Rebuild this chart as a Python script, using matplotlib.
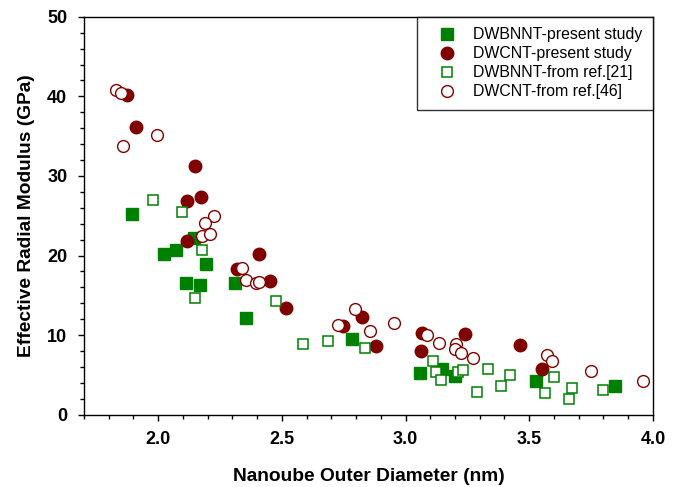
import matplotlib
matplotlib.use('Agg')
import matplotlib.pyplot as plt
from matplotlib.ticker import MultipleLocator

plt.rcParams['font.family'] = ['Liberation Sans', 'DejaVu Sans']

# -----------------------------
# DATA
# -----------------------------
bn_present_d = [1.896, 2.145, 2.072, 2.024, 2.194, 2.114, 2.169, 2.309, 2.357,
                2.782, 3.057, 3.146, 3.198, 3.529, 3.848]
bn_present_e = [25.2, 22.2, 20.7, 20.2, 18.9, 16.6, 16.3, 16.5, 12.1,
                9.5, 5.3, 5.8, 4.8, 4.2, 3.6]

c_present_d = [1.876, 1.910, 2.149, 2.116, 2.172, 2.118, 2.408, 2.317, 2.452,
               2.515, 2.823, 2.746, 2.881, 3.067, 3.061, 3.239, 3.462, 3.552]
c_present_e = [40.2, 36.2, 31.2, 26.9, 27.3, 21.8, 20.2, 18.3, 16.8,
               13.4, 12.3, 11.2, 8.6, 10.3, 8.0, 10.2, 8.7, 5.8]

bn_ref_d = [1.978, 2.098, 2.177, 2.148, 2.478, 2.585, 2.686, 2.835, 3.110, 3.125,
            3.144, 3.213, 3.234, 3.287, 3.334, 3.423, 3.384, 3.602, 3.562, 3.672,
            3.661, 3.800]
bn_ref_e = [27.0, 25.5, 20.7, 14.7, 14.3, 8.9, 9.3, 8.4, 6.7, 5.4,
            4.4, 5.4, 5.6, 2.9, 5.7, 5.0, 3.6, 4.7, 2.7, 3.4,
            2.0, 3.1]

c_ref_d = [1.829, 1.849, 1.997, 1.859, 2.227, 2.188, 2.179, 2.208, 2.339, 2.357,
           2.397, 2.408, 2.797, 2.726, 2.955, 2.855, 3.085, 3.134, 3.204, 3.201,
           3.224, 3.273, 3.571, 3.593, 3.751, 3.959]
c_ref_e = [40.8, 40.4, 35.2, 33.8, 25.0, 24.1, 22.4, 22.7, 18.4, 16.9,
           16.5, 16.7, 13.3, 11.3, 11.5, 10.5, 10.0, 9.0, 8.9, 8.2,
           7.7, 7.1, 7.5, 6.7, 5.5, 4.2]

green = '#008000'
maroon = '#800000'

# -----------------------------
# PLOT
# -----------------------------
fig = plt.figure(figsize=(6.88, 4.87), dpi=100)
ax = fig.add_axes([0.122, 0.1485, 0.827, 0.817])

ax.plot(bn_present_d, bn_present_e, 's', ms=8, color=green, mec=green,
        label='DWBNNT-present study')
ax.plot(c_present_d, c_present_e, 'o', ms=9, color=maroon, mec=maroon,
        label='DWCNT-present study')
ax.plot(bn_ref_d, bn_ref_e, 's', ms=7.5, mfc='white', mec=green, mew=1.1,
        label='DWBNNT-from ref.[21]')
ax.plot(c_ref_d, c_ref_e, 'o', ms=8.5, mfc='white', mec=maroon, mew=1.0,
        label='DWCNT-from ref.[46]')

ax.set_xlim(1.7, 4.0)
ax.set_ylim(0, 50)
ax.xaxis.set_major_locator(MultipleLocator(0.5))
ax.xaxis.set_minor_locator(MultipleLocator(0.1))
ax.yaxis.set_major_locator(MultipleLocator(10))
ax.yaxis.set_minor_locator(MultipleLocator(2))
ax.tick_params(which='major', direction='out', length=4, width=1,
               labelsize=13, pad=8, top=False, right=False)
ax.tick_params(which='minor', direction='out', length=3, width=1,
               top=False, right=False)
for lbl in ax.get_xticklabels() + ax.get_yticklabels():
    lbl.set_fontweight('bold')
for sp in ax.spines.values():
    sp.set_linewidth(1.0)

ax.set_xlabel('Nanoube Outer Diameter (nm)', fontsize=13.8, fontweight='bold',
              labelpad=14)
ax.set_ylabel('Effective Radial Modulus (GPa)', fontsize=13.8, fontweight='bold',
              labelpad=9)

leg = ax.legend(loc='upper right', fontsize=11.4, frameon=True, fancybox=False,
                edgecolor='black', borderaxespad=0, borderpad=0.65,
                handlelength=2.5, handletextpad=0.4, labelspacing=0.26,
                numpoints=1)
leg.get_frame().set_linewidth(1.0)

fig.savefig('out.png', dpi=100)
